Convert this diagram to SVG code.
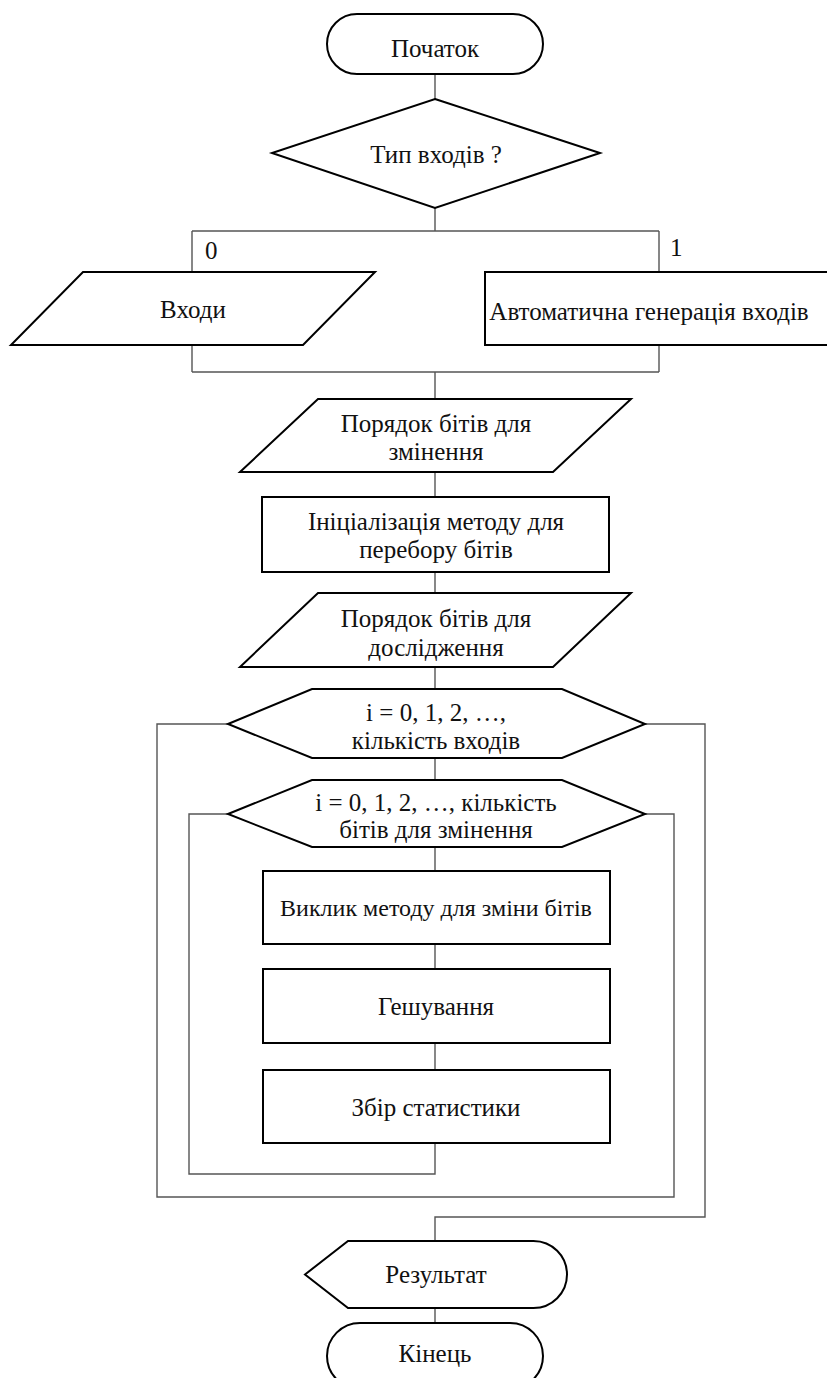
<svg xmlns="http://www.w3.org/2000/svg" width="827" height="1378" viewBox="0 0 827 1378" font-family="'Liberation Serif', 'Times New Roman', serif" font-size="25">
  <style>
    .shape { fill: #ffffff; stroke: #000000; stroke-width: 2; stroke-linejoin: miter; }
    .link { fill: none; stroke: #555555; stroke-width: 1.4; }
    text { font-family: 'Liberation Serif', 'Times New Roman', serif; font-size: 25px; fill: #111111; text-anchor: middle; }
    text.lbl { text-anchor: start; }
    text.sm { font-size: 24px; }
  </style>
  <rect width="827" height="1378" fill="#ffffff"/>

  <!-- connectors -->
  <g id="connectors">
    <path class="link" d="M435 74 V99"/>
    <path class="link" d="M435 208 V231 M192 231 H659 M192 231 V272 M659 231 V272"/>
    <path class="link" d="M192 345 V372 M659 345 V372 M192 372 H659 M435 372 V399"/>
    <path class="link" d="M435 472 V497"/>
    <path class="link" d="M435 572 V593"/>
    <path class="link" d="M435 667 V689"/>
    <path class="link" d="M435 758 V780"/>
    <path class="link" d="M435 847 V871"/>
    <path class="link" d="M435 944 V969"/>
    <path class="link" d="M435 1043 V1070"/>
    <!-- inner loop return -->
    <path class="link" d="M435 1143 V1174 H189 V814 H228"/>
    <!-- inner loop exit / outer loop return -->
    <path class="link" d="M645 814 H674 V1197 H157 V724 H228"/>
    <!-- outer loop exit -->
    <path class="link" d="M645 724 H705 V1217 H435 V1241"/>
    <path class="link" d="M435 1308 V1323"/>
  </g>

  <g id="start">
    <rect class="shape" x="327" y="14" width="216" height="60" rx="30" ry="30"/>
    <text x="435" y="57">Початок</text>
  </g>

  <g id="input-type">
    <polygon class="shape" points="435,99 600,153 435,208 272,153"/>
    <text x="436" y="163">Тип входів ?</text>
    <text class="lbl" x="205" y="259">0</text>
    <text class="lbl" x="670" y="256">1</text>
  </g>

  <g id="inputs">
    <polygon class="shape" points="83,272 375,272 303,345 11,345"/>
    <text x="193" y="318">Входи</text>
  </g>

  <g id="auto-inputs">
    <rect class="shape" x="485" y="272" width="350" height="73"/>
    <text x="649" y="320">Автоматична генерація входів</text>
  </g>

  <g id="bit-order-change">
    <polygon class="shape" points="318,399 631,399 553,472 240,472"/>
    <text x="436" y="432">Порядок бітів для</text>
    <text x="436" y="460">змінення</text>
  </g>

  <g id="init-method">
    <rect class="shape" x="262" y="497" width="347" height="75"/>
    <text x="436" y="530">Ініціалізація методу для</text>
    <text x="436" y="558">перебору бітів</text>
  </g>

  <g id="bit-order-study">
    <polygon class="shape" points="318,593 631,593 553,667 240,667"/>
    <text x="436" y="627">Порядок бітів для</text>
    <text x="436" y="656">дослідження</text>
  </g>

  <g id="loop-inputs">
    <polygon class="shape" points="228,724 312,689 562,689 645,724 562,758 312,758"/>
    <text x="436" y="721">i = 0, 1, 2, …,</text>
    <text x="436" y="749">кількість входів</text>
  </g>

  <g id="loop-bits">
    <polygon class="shape" points="228,814 312,780 562,780 645,814 562,847 312,847"/>
    <text x="436" y="811">i = 0, 1, 2, …, кількість</text>
    <text x="436" y="838">бітів для змінення</text>
  </g>

  <g id="call-method">
    <rect class="shape" x="263" y="871" width="347" height="73"/>
    <text class="sm" x="436" y="916">Виклик методу для зміни бітів</text>
  </g>

  <g id="hashing">
    <rect class="shape" x="263" y="969" width="347" height="74"/>
    <text x="436" y="1015">Гешування</text>
  </g>

  <g id="stats">
    <rect class="shape" x="263" y="1070" width="347" height="73"/>
    <text x="436" y="1116">Збір статистики</text>
  </g>

  <g id="result">
    <path class="shape" d="M305 1274.5 L348 1241 H533.5 A33.5 33.5 0 0 1 533.5 1308 H348 Z"/>
    <text x="436" y="1283">Результат</text>
  </g>

  <g id="end">
    <rect class="shape" x="327" y="1323" width="216" height="66" rx="33" ry="33"/>
    <text x="435" y="1362">Кінець</text>
  </g>
</svg>
